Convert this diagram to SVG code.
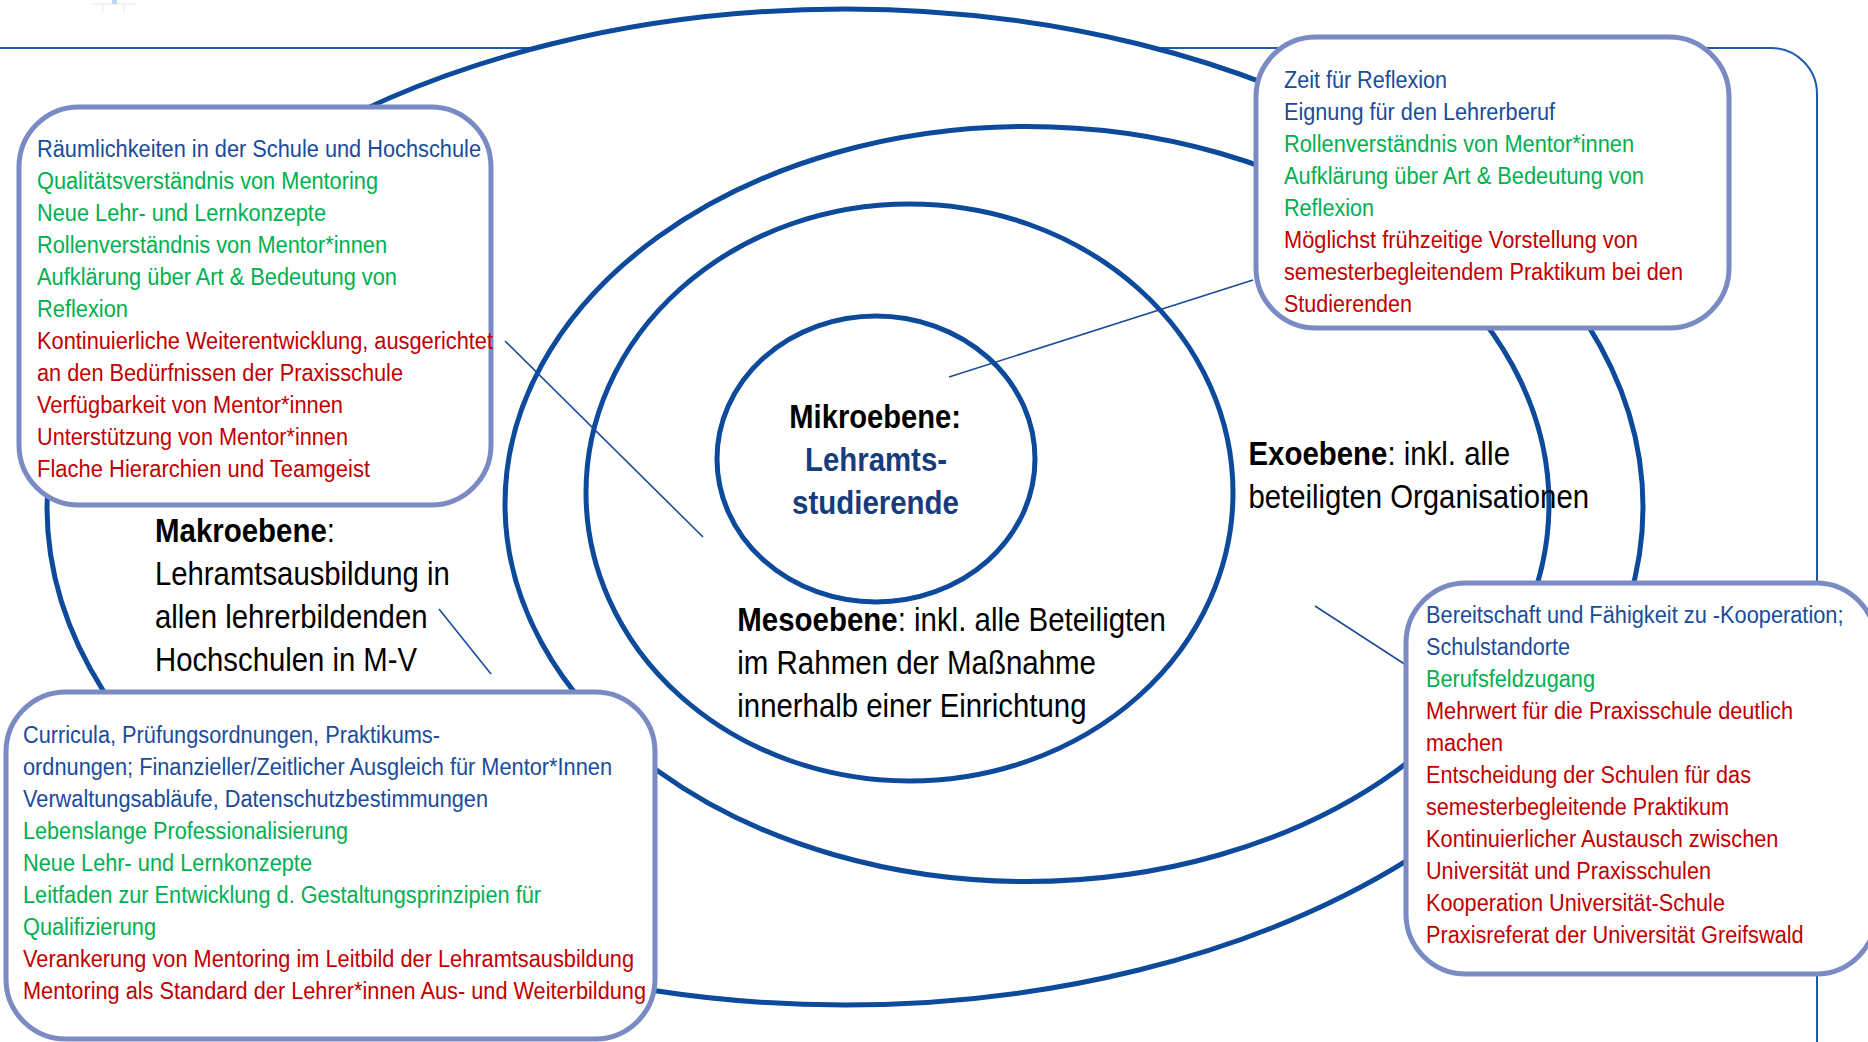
<svg xmlns="http://www.w3.org/2000/svg" width="1868" height="1042" viewBox="0 0 1868 1042">
<style>
text{font-family:"Liberation Sans",Arial,sans-serif}
.s{font-size:23px}
.L{font-size:34px;fill:#000}
.b{fill:#1A4B9B}
.g{fill:#00B050}
.r{fill:#C00000}
.bold{font-weight:bold}
.nv{fill:#163C7C;font-weight:bold}
.ell{fill:none;stroke:#0D4A9B;stroke-width:5}
.box{fill:#fff;stroke:#7A8AC3;stroke-width:5}
.con{stroke:#1A4B9B;stroke-width:1.6;fill:none}
.frame{fill:none;stroke:#1F5BAA;stroke-width:2}
</style>
<rect width="1868" height="1042" fill="#fff"/>
<g id="logo-fragment">
<path d="M93,4 H135 M103,4 V12 M124,4 V12" stroke="#E3E8EF" stroke-width="1" fill="none"/>
<rect x="112" y="0" width="5" height="4" fill="#B9D9EE"/>
</g>
<path id="frame" class="frame" d="M0,48 H1771 A46,46 0 0 1 1817,94 V1042"/>
<g id="levels">
<g id="makroebene"><ellipse cx="845" cy="507" rx="798" ry="498" fill="#fff" stroke="#0D4A9B" stroke-width="5"/></g>
<g id="exoebene"><ellipse class="ell" cx="1027" cy="504" rx="522" ry="377.5"/></g>
<g id="mesoebene"><ellipse class="ell" cx="909.5" cy="492.5" rx="323.5" ry="288.5"/></g>
<g id="mikroebene"><ellipse class="ell" cx="876" cy="459" rx="159" ry="143"/></g>
</g>
<g id="labels">
<g id="label-makro">
<text class="L" x="155" y="541.5" textLength="180" lengthAdjust="spacingAndGlyphs"><tspan class="bold">Makroebene</tspan>:</text>
<text class="L" x="155" y="584.5" textLength="294.7" lengthAdjust="spacingAndGlyphs">Lehramtsausbildung in</text>
<text class="L" x="155" y="627.5" textLength="272.6" lengthAdjust="spacingAndGlyphs">allen lehrerbildenden</text>
<text class="L" x="155" y="670.5" textLength="262" lengthAdjust="spacingAndGlyphs">Hochschulen in M-V</text>
</g>
<g id="label-meso">
<text class="L" x="737.3" y="631" textLength="428.7" lengthAdjust="spacingAndGlyphs"><tspan class="bold">Mesoebene</tspan>: inkl. alle Beteiligten</text>
<text class="L" x="737.3" y="674" textLength="358.7" lengthAdjust="spacingAndGlyphs">im Rahmen der Maßnahme</text>
<text class="L" x="737.3" y="717" textLength="349.2" lengthAdjust="spacingAndGlyphs">innerhalb einer Einrichtung</text>
</g>
<g id="label-exo">
<text class="L" x="1248.5" y="465" textLength="261.5" lengthAdjust="spacingAndGlyphs"><tspan class="bold">Exoebene</tspan>: inkl. alle</text>
<text class="L" x="1248.5" y="508" textLength="340.5" lengthAdjust="spacingAndGlyphs">beteiligten Organisationen</text>
</g>
<g id="label-mikro">
<text class="L bold" x="789.3" y="427.7" textLength="171.7" lengthAdjust="spacingAndGlyphs">Mikroebene:</text>
<text class="L nv" x="805" y="470.7" textLength="142" lengthAdjust="spacingAndGlyphs">Lehramts-</text>
<text class="L nv" x="792" y="513.7" textLength="167" lengthAdjust="spacingAndGlyphs">studierende</text>
</g>
</g>
<g id="connectors">
<line class="con" x1="505" y1="341" x2="703" y2="537"/>
<line class="con" x1="1253" y1="280" x2="949" y2="377"/>
<line class="con" x1="439" y1="609" x2="491" y2="674"/>
<line class="con" x1="1315" y1="606" x2="1406" y2="665"/>
</g>
<g id="box-meso-factors">
<rect class="box" x="19" y="107" width="472" height="398" rx="60" ry="60"/>
<text class="s b" x="37" y="157" textLength="444" lengthAdjust="spacingAndGlyphs">Räumlichkeiten in der Schule und Hochschule</text>
<text class="s g" x="37" y="189" textLength="341" lengthAdjust="spacingAndGlyphs">Qualitätsverständnis von Mentoring</text>
<text class="s g" x="37" y="221" textLength="289" lengthAdjust="spacingAndGlyphs">Neue Lehr- und Lernkonzepte</text>
<text class="s g" x="37" y="253" textLength="350" lengthAdjust="spacingAndGlyphs">Rollenverständnis von Mentor*innen</text>
<text class="s g" x="37" y="285" textLength="360" lengthAdjust="spacingAndGlyphs">Aufklärung über Art &amp; Bedeutung von</text>
<text class="s g" x="37" y="317" textLength="91" lengthAdjust="spacingAndGlyphs">Reflexion</text>
<text class="s r" x="37" y="349" textLength="456" lengthAdjust="spacingAndGlyphs">Kontinuierliche Weiterentwicklung, ausgerichtet</text>
<text class="s r" x="37" y="381" textLength="366" lengthAdjust="spacingAndGlyphs">an den Bedürfnissen der Praxisschule</text>
<text class="s r" x="37" y="413" textLength="306" lengthAdjust="spacingAndGlyphs">Verfügbarkeit von Mentor*innen</text>
<text class="s r" x="37" y="445" textLength="311" lengthAdjust="spacingAndGlyphs">Unterstützung von Mentor*innen</text>
<text class="s r" x="37" y="477" textLength="333" lengthAdjust="spacingAndGlyphs">Flache Hierarchien und Teamgeist</text>
</g>
<g id="box-mikro-factors">
<rect class="box" x="1256" y="37" width="473" height="291" rx="60" ry="60"/>
<text class="s b" x="1284" y="88" textLength="163" lengthAdjust="spacingAndGlyphs">Zeit für Reflexion</text>
<text class="s b" x="1284" y="120" textLength="271" lengthAdjust="spacingAndGlyphs">Eignung für den Lehrerberuf</text>
<text class="s g" x="1284" y="152" textLength="350" lengthAdjust="spacingAndGlyphs">Rollenverständnis von Mentor*innen</text>
<text class="s g" x="1284" y="184" textLength="360" lengthAdjust="spacingAndGlyphs">Aufklärung über Art &amp; Bedeutung von</text>
<text class="s g" x="1284" y="216" textLength="90" lengthAdjust="spacingAndGlyphs">Reflexion</text>
<text class="s r" x="1284" y="248" textLength="354" lengthAdjust="spacingAndGlyphs">Möglichst frühzeitige Vorstellung von</text>
<text class="s r" x="1284" y="280" textLength="399" lengthAdjust="spacingAndGlyphs">semesterbegleitendem Praktikum bei den</text>
<text class="s r" x="1284" y="312" textLength="128" lengthAdjust="spacingAndGlyphs">Studierenden</text>
</g>
<g id="box-makro-factors">
<rect class="box" x="6" y="692" width="649" height="347" rx="60" ry="60"/>
<text class="s b" x="23" y="743" textLength="417" lengthAdjust="spacingAndGlyphs">Curricula, Prüfungsordnungen, Praktikums-</text>
<text class="s b" x="23" y="775" textLength="589" lengthAdjust="spacingAndGlyphs">ordnungen; Finanzieller/Zeitlicher Ausgleich für Mentor*Innen</text>
<text class="s b" x="23" y="807" textLength="465" lengthAdjust="spacingAndGlyphs">Verwaltungsabläufe, Datenschutzbestimmungen</text>
<text class="s g" x="23" y="839" textLength="325" lengthAdjust="spacingAndGlyphs">Lebenslange Professionalisierung</text>
<text class="s g" x="23" y="871" textLength="289" lengthAdjust="spacingAndGlyphs">Neue Lehr- und Lernkonzepte</text>
<text class="s g" x="23" y="903" textLength="518" lengthAdjust="spacingAndGlyphs">Leitfaden zur Entwicklung d. Gestaltungsprinzipien für</text>
<text class="s g" x="23" y="935" textLength="133" lengthAdjust="spacingAndGlyphs">Qualifizierung</text>
<text class="s r" x="23" y="967" textLength="611" lengthAdjust="spacingAndGlyphs">Verankerung von Mentoring im Leitbild der Lehramtsausbildung</text>
<text class="s r" x="23" y="999" textLength="623" lengthAdjust="spacingAndGlyphs">Mentoring als Standard der Lehrer*innen Aus- und Weiterbildung</text>
</g>
<g id="box-exo-factors">
<rect class="box" x="1406" y="583" width="470" height="391" rx="60" ry="60"/>
<text class="s b" x="1426" y="623" textLength="417.5" lengthAdjust="spacingAndGlyphs">Bereitschaft und Fähigkeit zu -Kooperation;</text>
<text class="s b" x="1426" y="655" textLength="144" lengthAdjust="spacingAndGlyphs">Schulstandorte</text>
<text class="s g" x="1426" y="687" textLength="169" lengthAdjust="spacingAndGlyphs">Berufsfeldzugang</text>
<text class="s r" x="1426" y="719" textLength="367" lengthAdjust="spacingAndGlyphs">Mehrwert für die Praxisschule deutlich</text>
<text class="s r" x="1426" y="751" textLength="77" lengthAdjust="spacingAndGlyphs">machen</text>
<text class="s r" x="1426" y="783" textLength="325" lengthAdjust="spacingAndGlyphs">Entscheidung der Schulen für das</text>
<text class="s r" x="1426" y="815" textLength="303" lengthAdjust="spacingAndGlyphs">semesterbegleitende Praktikum</text>
<text class="s r" x="1426" y="847" textLength="352.5" lengthAdjust="spacingAndGlyphs">Kontinuierlicher Austausch zwischen</text>
<text class="s r" x="1426" y="879" textLength="285" lengthAdjust="spacingAndGlyphs">Universität und Praxisschulen</text>
<text class="s r" x="1426" y="911" textLength="299" lengthAdjust="spacingAndGlyphs">Kooperation Universität-Schule</text>
<text class="s r" x="1426" y="943" textLength="377.6" lengthAdjust="spacingAndGlyphs">Praxisreferat der Universität Greifswald</text>
</g>
</svg>
